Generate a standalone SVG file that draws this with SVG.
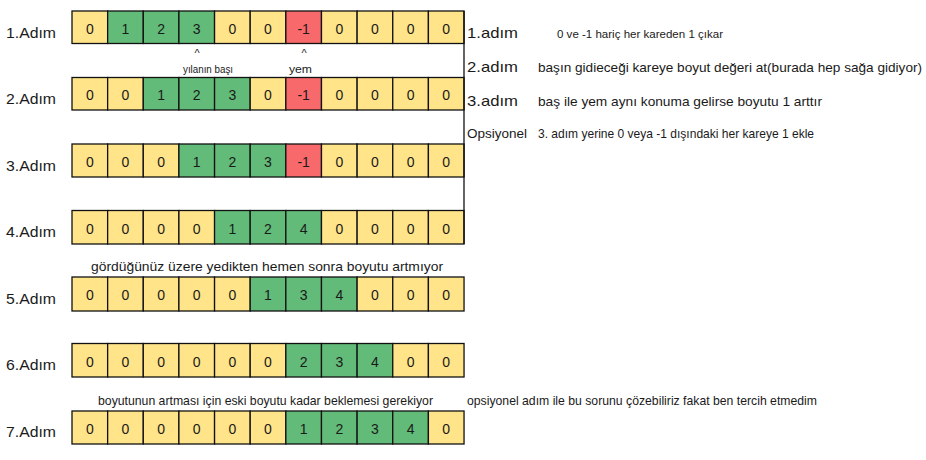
<svg xmlns="http://www.w3.org/2000/svg" width="926" height="460" viewBox="0 0 926 460">
<style>
text{font-family:"Liberation Sans",Arial,sans-serif;fill:#1a1a1a}
.lbl{font-size:14.5px}
.num{font-size:14px;text-anchor:middle}
.note{font-size:13px}
.sm{font-size:11px}
.y,.g,.r{stroke:#111;stroke-width:1.3}
.y{fill:#FFE48A}
.g{fill:#62BB78}
.r{fill:#F8696B}
</style>
<rect width="926" height="460" fill="#fff"/>
<g id="labels">
<text class="lbl" x="6" y="38" textLength="50" lengthAdjust="spacingAndGlyphs">1.Adım</text>
<text class="lbl" x="6" y="104" textLength="50" lengthAdjust="spacingAndGlyphs">2.Adım</text>
<text class="lbl" x="6" y="171" textLength="50" lengthAdjust="spacingAndGlyphs">3.Adım</text>
<text class="lbl" x="6" y="237" textLength="50" lengthAdjust="spacingAndGlyphs">4.Adım</text>
<text class="lbl" x="6" y="304" textLength="50" lengthAdjust="spacingAndGlyphs">5.Adım</text>
<text class="lbl" x="6" y="370" textLength="50" lengthAdjust="spacingAndGlyphs">6.Adım</text>
<text class="lbl" x="6" y="437" textLength="50" lengthAdjust="spacingAndGlyphs">7.Adım</text>
</g>
<g id="row1" transform="translate(72,11)">
<rect class="y" x="0" width="35.64" height="32.5"/><text class="num" x="17.82" y="22.5">0</text>
<rect class="g" x="35.64" width="35.64" height="32.5"/><text class="num" x="53.46" y="22.5">1</text>
<rect class="g" x="71.28" width="35.64" height="32.5"/><text class="num" x="89.1" y="22.5">2</text>
<rect class="g" x="106.92" width="35.64" height="32.5"/><text class="num" x="124.74" y="22.5">3</text>
<rect class="y" x="142.56" width="35.64" height="32.5"/><text class="num" x="160.38" y="22.5">0</text>
<rect class="y" x="178.2" width="35.64" height="32.5"/><text class="num" x="196.02" y="22.5">0</text>
<rect class="r" x="213.84" width="35.64" height="32.5"/><text class="num" x="231.66" y="22.5">-1</text>
<rect class="y" x="249.48" width="35.64" height="32.5"/><text class="num" x="267.3" y="22.5">0</text>
<rect class="y" x="285.12" width="35.64" height="32.5"/><text class="num" x="302.94" y="22.5">0</text>
<rect class="y" x="320.76" width="35.64" height="32.5"/><text class="num" x="338.58" y="22.5">0</text>
<rect class="y" x="356.4" width="35.64" height="32.5"/><text class="num" x="374.22" y="22.5">0</text>
</g>
<g id="row2" transform="translate(72,77.5)">
<rect class="y" x="0" width="35.64" height="32.5"/><text class="num" x="17.82" y="22.5">0</text>
<rect class="y" x="35.64" width="35.64" height="32.5"/><text class="num" x="53.46" y="22.5">0</text>
<rect class="g" x="71.28" width="35.64" height="32.5"/><text class="num" x="89.1" y="22.5">1</text>
<rect class="g" x="106.92" width="35.64" height="32.5"/><text class="num" x="124.74" y="22.5">2</text>
<rect class="g" x="142.56" width="35.64" height="32.5"/><text class="num" x="160.38" y="22.5">3</text>
<rect class="y" x="178.2" width="35.64" height="32.5"/><text class="num" x="196.02" y="22.5">0</text>
<rect class="r" x="213.84" width="35.64" height="32.5"/><text class="num" x="231.66" y="22.5">-1</text>
<rect class="y" x="249.48" width="35.64" height="32.5"/><text class="num" x="267.3" y="22.5">0</text>
<rect class="y" x="285.12" width="35.64" height="32.5"/><text class="num" x="302.94" y="22.5">0</text>
<rect class="y" x="320.76" width="35.64" height="32.5"/><text class="num" x="338.58" y="22.5">0</text>
<rect class="y" x="356.4" width="35.64" height="32.5"/><text class="num" x="374.22" y="22.5">0</text>
</g>
<g id="row3" transform="translate(72,144)">
<rect class="y" x="0" width="35.64" height="33"/><text class="num" x="17.82" y="22.5">0</text>
<rect class="y" x="35.64" width="35.64" height="33"/><text class="num" x="53.46" y="22.5">0</text>
<rect class="y" x="71.28" width="35.64" height="33"/><text class="num" x="89.1" y="22.5">0</text>
<rect class="g" x="106.92" width="35.64" height="33"/><text class="num" x="124.74" y="22.5">1</text>
<rect class="g" x="142.56" width="35.64" height="33"/><text class="num" x="160.38" y="22.5">2</text>
<rect class="g" x="178.2" width="35.64" height="33"/><text class="num" x="196.02" y="22.5">3</text>
<rect class="r" x="213.84" width="35.64" height="33"/><text class="num" x="231.66" y="22.5">-1</text>
<rect class="y" x="249.48" width="35.64" height="33"/><text class="num" x="267.3" y="22.5">0</text>
<rect class="y" x="285.12" width="35.64" height="33"/><text class="num" x="302.94" y="22.5">0</text>
<rect class="y" x="320.76" width="35.64" height="33"/><text class="num" x="338.58" y="22.5">0</text>
<rect class="y" x="356.4" width="35.64" height="33"/><text class="num" x="374.22" y="22.5">0</text>
</g>
<g id="row4" transform="translate(72,210.5)">
<rect class="y" x="0" width="35.64" height="33.5"/><text class="num" x="17.82" y="23">0</text>
<rect class="y" x="35.64" width="35.64" height="33.5"/><text class="num" x="53.46" y="23">0</text>
<rect class="y" x="71.28" width="35.64" height="33.5"/><text class="num" x="89.1" y="23">0</text>
<rect class="y" x="106.92" width="35.64" height="33.5"/><text class="num" x="124.74" y="23">0</text>
<rect class="g" x="142.56" width="35.64" height="33.5"/><text class="num" x="160.38" y="23">1</text>
<rect class="g" x="178.2" width="35.64" height="33.5"/><text class="num" x="196.02" y="23">2</text>
<rect class="g" x="213.84" width="35.64" height="33.5"/><text class="num" x="231.66" y="23">4</text>
<rect class="y" x="249.48" width="35.64" height="33.5"/><text class="num" x="267.3" y="23">0</text>
<rect class="y" x="285.12" width="35.64" height="33.5"/><text class="num" x="302.94" y="23">0</text>
<rect class="y" x="320.76" width="35.64" height="33.5"/><text class="num" x="338.58" y="23">0</text>
<rect class="y" x="356.4" width="35.64" height="33.5"/><text class="num" x="374.22" y="23">0</text>
</g>
<g id="row5" transform="translate(72,277)">
<rect class="y" x="0" width="35.64" height="34"/><text class="num" x="17.82" y="23">0</text>
<rect class="y" x="35.64" width="35.64" height="34"/><text class="num" x="53.46" y="23">0</text>
<rect class="y" x="71.28" width="35.64" height="34"/><text class="num" x="89.1" y="23">0</text>
<rect class="y" x="106.92" width="35.64" height="34"/><text class="num" x="124.74" y="23">0</text>
<rect class="y" x="142.56" width="35.64" height="34"/><text class="num" x="160.38" y="23">0</text>
<rect class="g" x="178.2" width="35.64" height="34"/><text class="num" x="196.02" y="23">1</text>
<rect class="g" x="213.84" width="35.64" height="34"/><text class="num" x="231.66" y="23">3</text>
<rect class="g" x="249.48" width="35.64" height="34"/><text class="num" x="267.3" y="23">4</text>
<rect class="y" x="285.12" width="35.64" height="34"/><text class="num" x="302.94" y="23">0</text>
<rect class="y" x="320.76" width="35.64" height="34"/><text class="num" x="338.58" y="23">0</text>
<rect class="y" x="356.4" width="35.64" height="34"/><text class="num" x="374.22" y="23">0</text>
</g>
<g id="row6" transform="translate(72,343.5)">
<rect class="y" x="0" width="35.64" height="33.5"/><text class="num" x="17.82" y="23">0</text>
<rect class="y" x="35.64" width="35.64" height="33.5"/><text class="num" x="53.46" y="23">0</text>
<rect class="y" x="71.28" width="35.64" height="33.5"/><text class="num" x="89.1" y="23">0</text>
<rect class="y" x="106.92" width="35.64" height="33.5"/><text class="num" x="124.74" y="23">0</text>
<rect class="y" x="142.56" width="35.64" height="33.5"/><text class="num" x="160.38" y="23">0</text>
<rect class="y" x="178.2" width="35.64" height="33.5"/><text class="num" x="196.02" y="23">0</text>
<rect class="g" x="213.84" width="35.64" height="33.5"/><text class="num" x="231.66" y="23">2</text>
<rect class="g" x="249.48" width="35.64" height="33.5"/><text class="num" x="267.3" y="23">3</text>
<rect class="g" x="285.12" width="35.64" height="33.5"/><text class="num" x="302.94" y="23">4</text>
<rect class="y" x="320.76" width="35.64" height="33.5"/><text class="num" x="338.58" y="23">0</text>
<rect class="y" x="356.4" width="35.64" height="33.5"/><text class="num" x="374.22" y="23">0</text>
</g>
<g id="row7" transform="translate(72,411)">
<rect class="y" x="0" width="35.64" height="33"/><text class="num" x="17.82" y="23">0</text>
<rect class="y" x="35.64" width="35.64" height="33"/><text class="num" x="53.46" y="23">0</text>
<rect class="y" x="71.28" width="35.64" height="33"/><text class="num" x="89.1" y="23">0</text>
<rect class="y" x="106.92" width="35.64" height="33"/><text class="num" x="124.74" y="23">0</text>
<rect class="y" x="142.56" width="35.64" height="33"/><text class="num" x="160.38" y="23">0</text>
<rect class="y" x="178.2" width="35.64" height="33"/><text class="num" x="196.02" y="23">0</text>
<rect class="g" x="213.84" width="35.64" height="33"/><text class="num" x="231.66" y="23">1</text>
<rect class="g" x="249.48" width="35.64" height="33"/><text class="num" x="267.3" y="23">2</text>
<rect class="g" x="285.12" width="35.64" height="33"/><text class="num" x="302.94" y="23">3</text>
<rect class="g" x="320.76" width="35.64" height="33"/><text class="num" x="338.58" y="23">4</text>
<rect class="y" x="356.4" width="35.64" height="33"/><text class="num" x="374.22" y="23">0</text>
</g>
<g id="connectors">
<line x1="464" y1="11" x2="464" y2="244" stroke="#111" stroke-width="1.3"/>
</g>
<g id="annotations">
<text class="sm" x="197" y="57" text-anchor="middle">^</text>
<text class="sm" x="304" y="57" text-anchor="middle">^</text>
<text class="sm" x="183" y="73" textLength="50" lengthAdjust="spacingAndGlyphs">yılanın başı</text>
<text class="sm" x="289" y="73" textLength="23" lengthAdjust="spacingAndGlyphs">yem</text>
<text class="lbl" x="467" y="38" textLength="51" lengthAdjust="spacingAndGlyphs">1.adım</text>
<text class="sm" x="557" y="38" textLength="166" lengthAdjust="spacingAndGlyphs">0 ve -1 hariç her kareden 1 çıkar</text>
<text class="lbl" x="467" y="72" textLength="51" lengthAdjust="spacingAndGlyphs">2.adım</text>
<text class="note" x="538" y="72" textLength="384" lengthAdjust="spacingAndGlyphs">başın gidieceği kareye boyut değeri at(burada hep sağa gidiyor)</text>
<text class="lbl" x="467" y="106" textLength="51" lengthAdjust="spacingAndGlyphs">3.adım</text>
<text class="note" x="538" y="106" textLength="284" lengthAdjust="spacingAndGlyphs">baş ile yem aynı konuma gelirse boyutu 1 arttır</text>
<text class="note" x="467" y="138" textLength="60" lengthAdjust="spacingAndGlyphs">Opsiyonel</text>
<text class="note" x="538" y="138" textLength="276" lengthAdjust="spacingAndGlyphs">3. adım yerine 0 veya -1 dışındaki her kareye 1 ekle</text>
<text class="note" x="91" y="271" textLength="352" lengthAdjust="spacingAndGlyphs">gördüğünüz üzere yedikten hemen sonra boyutu artmıyor</text>
<text class="note" x="98" y="405" textLength="335" lengthAdjust="spacingAndGlyphs">boyutunun artması için eski boyutu kadar beklemesi gerekiyor</text>
<text class="note" x="467" y="405" textLength="350" lengthAdjust="spacingAndGlyphs">opsiyonel adım ile bu sorunu çözebiliriz fakat ben tercih etmedim</text>
</g>
</svg>
